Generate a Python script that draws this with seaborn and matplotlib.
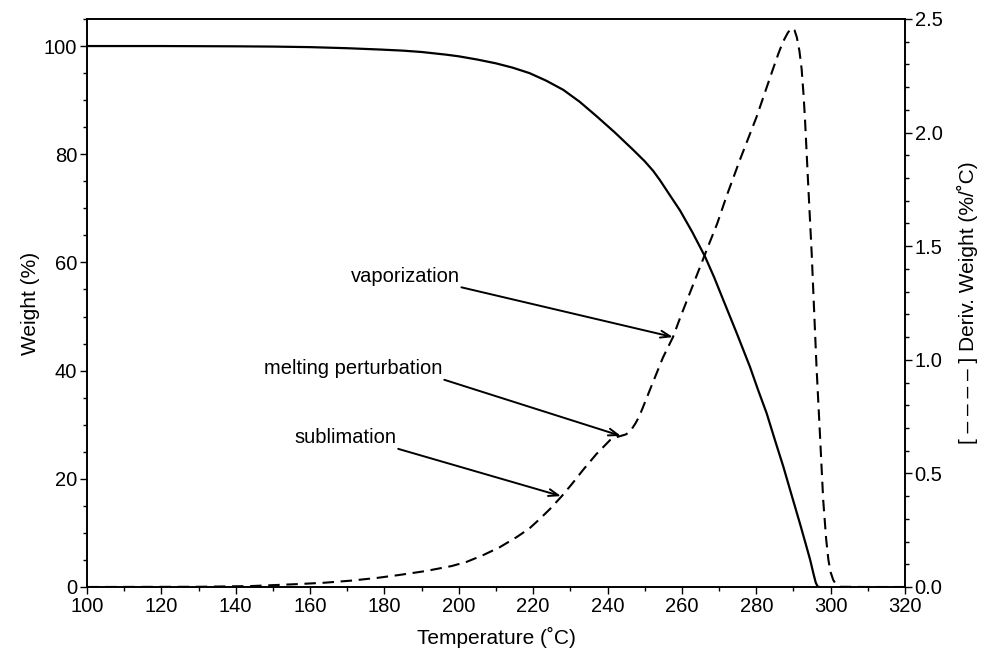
import matplotlib
matplotlib.use("Agg")
import matplotlib.pyplot as plt
from matplotlib.ticker import MultipleLocator, FormatStrFormatter
import pandas as pd
import seaborn as sns

# Weight-loss curve (TGA)
weight_temp = [100, 120, 140, 150, 160, 170, 179, 185, 190, 196.7, 200, 205, 210,
               214.5, 219, 223.5, 228.1, 232.5, 237.1, 242, 246.9, 250, 252.3, 254.1,
               256.5, 259.5, 262.8, 266.2, 268.7, 271.1, 274.7, 278.3, 280.5, 282.8,
               285, 287.3, 289.5, 291.8, 293.2, 294.5, 295.4, 296.0, 296.5, 297]
weight_pct = [100, 100, 99.95, 99.9, 99.8, 99.6, 99.35, 99.15, 98.9, 98.4, 98.1,
              97.5, 96.8, 96.0, 95.0, 93.6, 91.9, 89.7, 87.0, 84.0, 80.8, 78.7, 76.9,
              75.2, 72.7, 69.6, 65.6, 61.1, 57.2, 53.1, 47.0, 40.7, 36.4, 32.1, 27.2,
              22.2, 17.0, 11.6, 8.2, 5.0, 2.4, 0.8, 0.1, 0.0]

# Derivative of weight
deriv_temp = [100, 130, 144, 157, 164, 171, 178, 184, 191, 198, 202, 206.5, 211,
              215.6, 219, 221.8, 224.5, 227.7, 230.5, 233.4, 237, 240.7, 242.5,
              243.8, 245, 246.3, 247.5, 248.5, 249.5, 251.4, 254.9, 257.6, 259.5,
              263, 266.7, 269.5, 272, 275.6, 280.1, 284.5, 286, 287.2, 288.5, 289.5,
              290.3, 290.9, 291.6, 292.2, 292.7, 293.1, 294.0, 294.9, 296.2, 297.1,
              298.0, 298.8, 299.4, 300.0, 300.7, 301.5, 302.5, 310, 320]
deriv_val = [0, 0.001, 0.004, 0.013, 0.019, 0.028, 0.04, 0.053, 0.07, 0.092, 0.11,
             0.14, 0.175, 0.22, 0.258, 0.30, 0.343, 0.40, 0.455, 0.515, 0.585, 0.647,
             0.66, 0.666, 0.672, 0.69, 0.72, 0.75, 0.79, 0.868, 1.01, 1.10, 1.184,
             1.33, 1.485, 1.60, 1.72, 1.88, 2.07, 2.28, 2.35, 2.40, 2.44, 2.46, 2.45,
             2.42, 2.36, 2.28, 2.17, 2.06, 1.76, 1.47, 0.97, 0.68, 0.383, 0.21, 0.119,
             0.065, 0.031, 0.01, 0.001, 0, 0]

# Annotated features on the derivative curve: label, arrow tip (T, value), text anchor (T, value)
ann_labels = ["vaporization", "melting perturbation", "sublimation"]
ann_tip = [(257.6, 1.10), (243.6, 0.665), (227.5, 0.40)]
ann_text = [(200.3, 1.367), (195.7, 0.960), (183.3, 0.656)]

sns.set_style("ticks")
plt.rcParams["font.family"] = ["Liberation Sans", "DejaVu Sans"]
for key in ("text.color", "axes.labelcolor", "xtick.color", "ytick.color",
            "axes.edgecolor"):
    plt.rcParams[key] = "black"
FS = 14.5

fig = plt.figure(figsize=(9.87, 6.5), dpi=100)
ax = fig.add_axes([87 / 987, 1 - 587 / 650, (905 - 87) / 987, (587 - 19) / 650])
ax2 = ax.twinx()

w_df = pd.DataFrame({"Temperature": weight_temp, "Weight": weight_pct})
d_df = pd.DataFrame({"Temperature": deriv_temp, "Deriv": deriv_val})

sns.lineplot(data=w_df, x="Temperature", y="Weight", ax=ax, color="black",
             linewidth=1.6, sort=False)
sns.lineplot(data=d_df, x="Temperature", y="Deriv", ax=ax2, color="black",
             linewidth=1.5, sort=False)
ax2.lines[0].set_dashes((5.5, 3.2))
for ln in ax.lines + ax2.lines:
    ln.set_solid_joinstyle("round")
    ln.set_dash_joinstyle("round")

ax.set_xlim(100, 320)
ax.set_ylim(0, 105)
ax2.set_ylim(0, 2.5)

ax.xaxis.set_major_locator(MultipleLocator(20))
ax.xaxis.set_minor_locator(MultipleLocator(10))
ax.yaxis.set_major_locator(MultipleLocator(20))
ax.yaxis.set_minor_locator(MultipleLocator(5))
ax2.yaxis.set_major_locator(MultipleLocator(0.5))
ax2.yaxis.set_minor_locator(MultipleLocator(0.1))
ax2.yaxis.set_major_formatter(FormatStrFormatter("%.1f"))

for a in (ax, ax2):
    a.tick_params(which="major", direction="out", length=5, width=1.0,
                  labelsize=FS, color="black", labelcolor="black", pad=2)
    a.tick_params(which="minor", direction="out", length=3, width=1.0, color="black")
    for s in a.spines.values():
        s.set_linewidth(1.2)
        s.set_color("black")

ax.set_xlabel("Temperature (˚C)", fontsize=FS + 0.5, labelpad=8)
ax.set_ylabel("Weight (%)", fontsize=FS + 0.5, labelpad=3)
ax2.set_ylabel("[ – – – – ] Deriv. Weight (%/˚C)", fontsize=FS + 0.5, labelpad=10)

for lab, tip, txt in zip(ann_labels, ann_tip, ann_text):
    ax2.text(txt[0], txt[1], lab, fontsize=FS, ha="right", va="center")
    ax2.annotate("", xy=tip, xytext=(txt[0] + 0.4, txt[1] - 0.048),
                 arrowprops=dict(arrowstyle="->,head_length=0.7,head_width=0.25",
                                 color="black", lw=1.4, shrinkA=0, shrinkB=0))

fig.savefig("out.png", dpi=100)
